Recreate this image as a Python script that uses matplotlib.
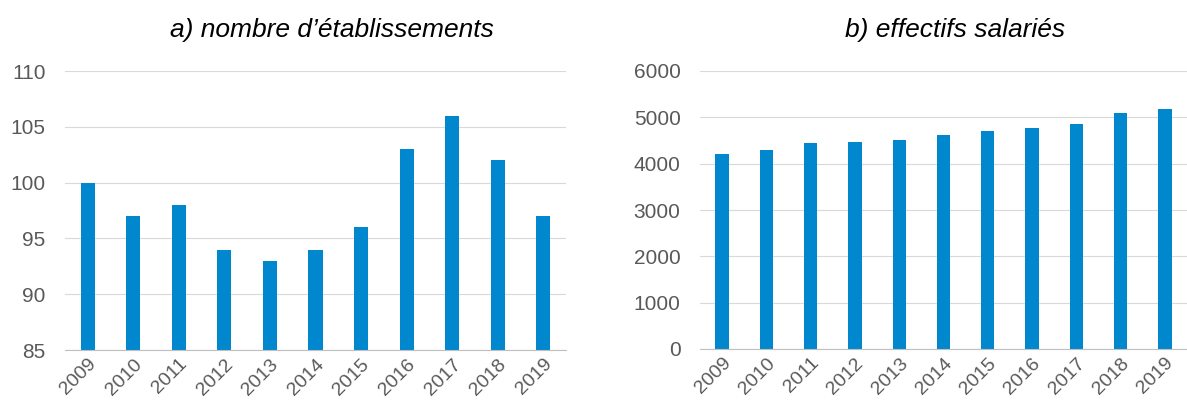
import numpy as np
import matplotlib.pyplot as plt

plt.rcParams['font.family'] = ['Liberation Sans', 'DejaVu Sans']

## données
annees = ['2009', '2010', '2011', '2012', '2013', '2014', '2015', '2016', '2017', '2018', '2019']
etablissements = [100, 97, 98, 94, 93, 94, 96, 103, 106, 102, 97]
effectifs = [4200, 4290, 4440, 4470, 4520, 4620, 4700, 4780, 4860, 5090, 5180]

bleu = '#0087CE'
gris_txt = '#595959'
gris_grid = '#D9D9D9'

fig = plt.figure(figsize=(11.87, 4.13), dpi=100)

x = np.arange(len(annees))


def style_axe(ax):
    ax.set_axisbelow(True)
    ax.yaxis.grid(True, color=gris_grid, linewidth=0.8)
    for s in ['top', 'right', 'left']:
        ax.spines[s].set_visible(False)
    ax.spines['bottom'].set_color('#BFBFBF')
    ax.tick_params(axis='both', length=0, colors=gris_txt)
    ax.tick_params(axis='y', labelsize=15)
    ax.tick_params(axis='x', labelsize=14, pad=4)
    ax.set_xticks(x)
    ax.set_xticklabels(annees, rotation=45, ha='right', rotation_mode='anchor')


## a) nombre d'établissements
ax01 = fig.add_axes([65 / 1187, 1 - 350 / 413, 501 / 1187, 279 / 413])
ax01.bar(x, etablissements, width=0.31, color=bleu)
ax01.set_ylim(85, 110)
ax01.set_yticks(range(85, 111, 5))
ax01.set_xlim(-0.5, 10.5)
style_axe(ax01)
ax01.tick_params(axis='y', pad=14)

## b) effectifs salariés
ax02 = fig.add_axes([700 / 1187, 1 - 349 / 413, 487 / 1187, 278 / 413])
ax02.bar(x, effectifs, width=0.3, color=bleu)
ax02.set_ylim(0, 6000)
ax02.set_yticks(range(0, 6001, 1000))
ax02.set_xlim(-0.5, 10.5)
style_axe(ax02)
ax02.tick_params(axis='y', pad=14)

fig.text(332 / 1187, 1 - 30 / 413, "a) nombre d\u2019établissements", fontsize=19,
         style='italic', ha='center', va='center')
fig.text(955 / 1187, 1 - 30 / 413, "b) effectifs salariés", fontsize=19,
         style='italic', ha='center', va='center')

plt.savefig('out.png', dpi=100)
